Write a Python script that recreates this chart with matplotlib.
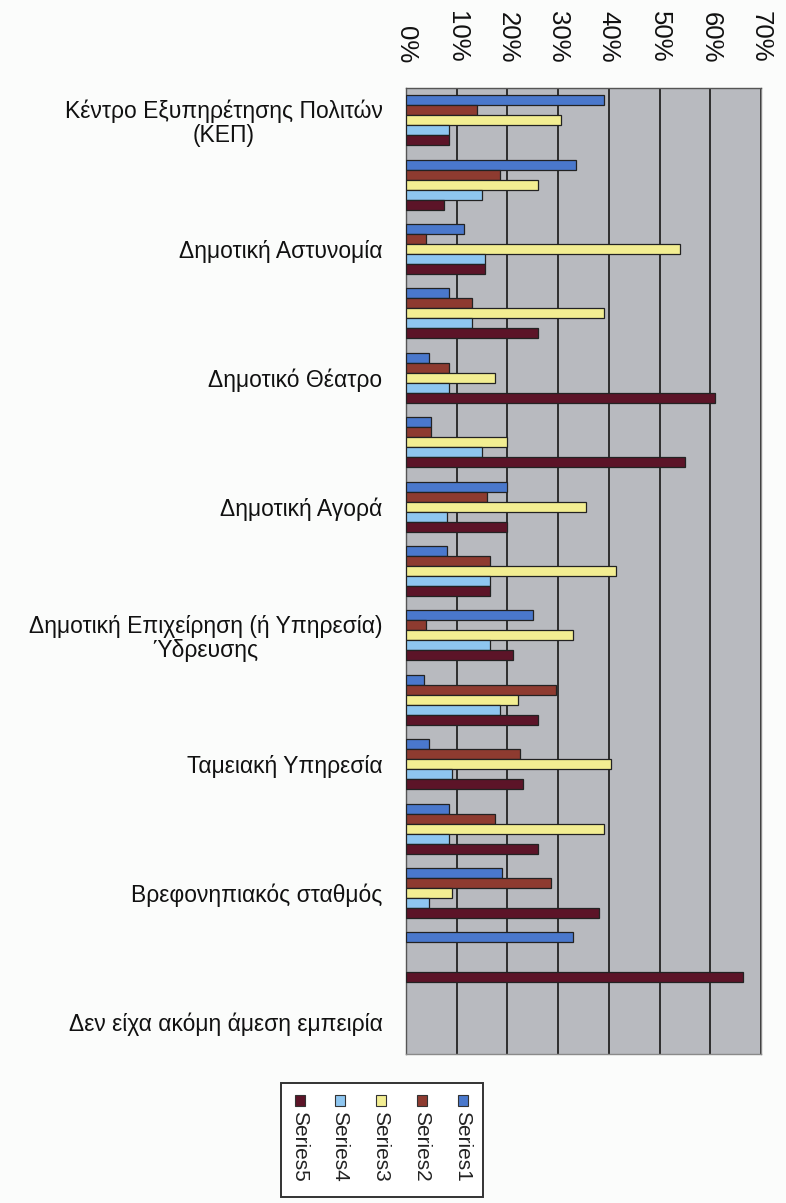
import matplotlib
matplotlib.use('Agg')
import matplotlib.pyplot as plt
import numpy as np
from matplotlib.patches import Rectangle

# ---------------- data ----------------
categories = [
    "Κέντρο Εξυπηρέτησης Πολιτών\n(ΚΕΠ)",
    "",
    "Δημοτική Αστυνομία",
    "",
    "Δημοτικό Θέατρο",
    "",
    "Δημοτική Αγορά",
    "",
    "Δημοτική Επιχείρηση (ή Υπηρεσία)\nΎδρευσης",
    "",
    "Ταμειακή Υπηρεσία",
    "",
    "Βρεφονηπιακός σταθμός",
    "",
    "Δεν είχα ακόμη άμεση εμπειρία",
]
series_names = ["Series1", "Series2", "Series3", "Series4", "Series5"]
series1 = [39.0, 33.5, 11.5, 8.5, 4.5, 5.0, 20.0, 8.0, 25.0, 3.5, 4.5, 8.5, 19.0, 33.0, 0.0]
series2 = [14.0, 18.5, 4.0, 13.0, 8.5, 5.0, 16.0, 16.5, 4.0, 29.5, 22.5, 17.5, 28.5, 0.0, 0.0]
series3 = [30.5, 26.0, 54.0, 39.0, 17.5, 20.0, 35.5, 41.5, 33.0, 22.0, 40.5, 39.0, 9.0, 0.0, 0.0]
series4 = [8.5, 15.0, 15.5, 13.0, 8.5, 15.0, 8.0, 16.5, 16.5, 18.5, 9.0, 8.5, 4.5, 0.0, 0.0]
series5 = [8.5, 7.5, 15.5, 26.0, 61.0, 55.0, 20.0, 16.5, 21.0, 26.0, 23.0, 26.0, 38.0, 66.5, 0.0]
tick_values = [0, 10, 20, 30, 40, 50, 60, 70]
tick_labels = ["0%", "10%", "20%", "30%", "40%", "50%", "60%", "70%"]

# ---------------- style ----------------
colors = ["#4a78cc", "#8e3b30", "#f3ee92", "#8ec6f0", "#5c1428"]
plt.rcParams['font.family'] = ['Liberation Sans', 'DejaVu Sans']

W, H = 786, 1203
fig = plt.figure(figsize=(W / 100, H / 100), dpi=100)
fig.patch.set_facecolor('#fbfcfb')

def fx(px):
    return px / W

def fy(py):
    return 1 - py / H

ax = fig.add_axes([fx(406), fy(1054), fx(761) - fx(406), fy(88) - fy(1054)])
ax.set_facecolor('#b8babf')

series = [series1, series2, series3, series4, series5]
n = len(categories)
ypos = np.arange(n)
bh = 0.155
for i, (vals, c) in enumerate(zip(series, colors)):
    vals = np.asarray(vals)
    m = vals > 0
    ax.barh(ypos[m] + (i - 2) * bh, vals[m], height=bh, color=c,
            edgecolor='#222222', linewidth=0.9, zorder=3)

ax.set_xlim(0, 70)
ax.set_ylim(n - 0.5, -0.5)
ax.xaxis.tick_top()
ax.set_xticks(tick_values)
ax.set_xticklabels(tick_labels, rotation=270, fontsize=18.5, color='#111111')
ax.tick_params(axis='x', length=0, pad=18)
ax.set_yticks(ypos)
ax.set_yticklabels(categories, fontsize=16.5, color='#111111')
for t in ax.get_yticklabels():
    t.set_multialignment('center')
    t.set_linespacing(1.05)
ax.tick_params(axis='y', length=0, pad=17)
ax.grid(axis='x', color='#2e2e2e', linewidth=1.4, zorder=1)
ax.grid(axis='y', visible=False)
for s in ax.spines.values():
    s.set_color('#8a8a8a')
    s.set_linewidth(1.0)
ax.spines['left'].set_color('#555555')
ax.spines['top'].set_color('#555555')

# ---------------- legend (rotated, drawn manually) ----------------
box = Rectangle((fx(281), fy(1197)), fx(483) - fx(281), fy(1083) - fy(1197),
                transform=fig.transFigure, facecolor='white', edgecolor='#333333',
                linewidth=1.4, zorder=5)
fig.add_artist(box)
xcenters = [463, 422, 381, 340, 300]
for name, c, xc in zip(series_names, colors, xcenters):
    sq = Rectangle((fx(xc - 5), fy(1106)), fx(10), fy(1095) - fy(1106),
                   transform=fig.transFigure, facecolor=c, edgecolor='#333333',
                   linewidth=0.8, zorder=6)
    fig.add_artist(sq)
    fig.text(fx(xc), fy(1111), name, rotation=270, ha='center', va='top',
             fontsize=15, color='#222222', zorder=6)

fig.savefig('out.png', dpi=100, facecolor=fig.get_facecolor())
